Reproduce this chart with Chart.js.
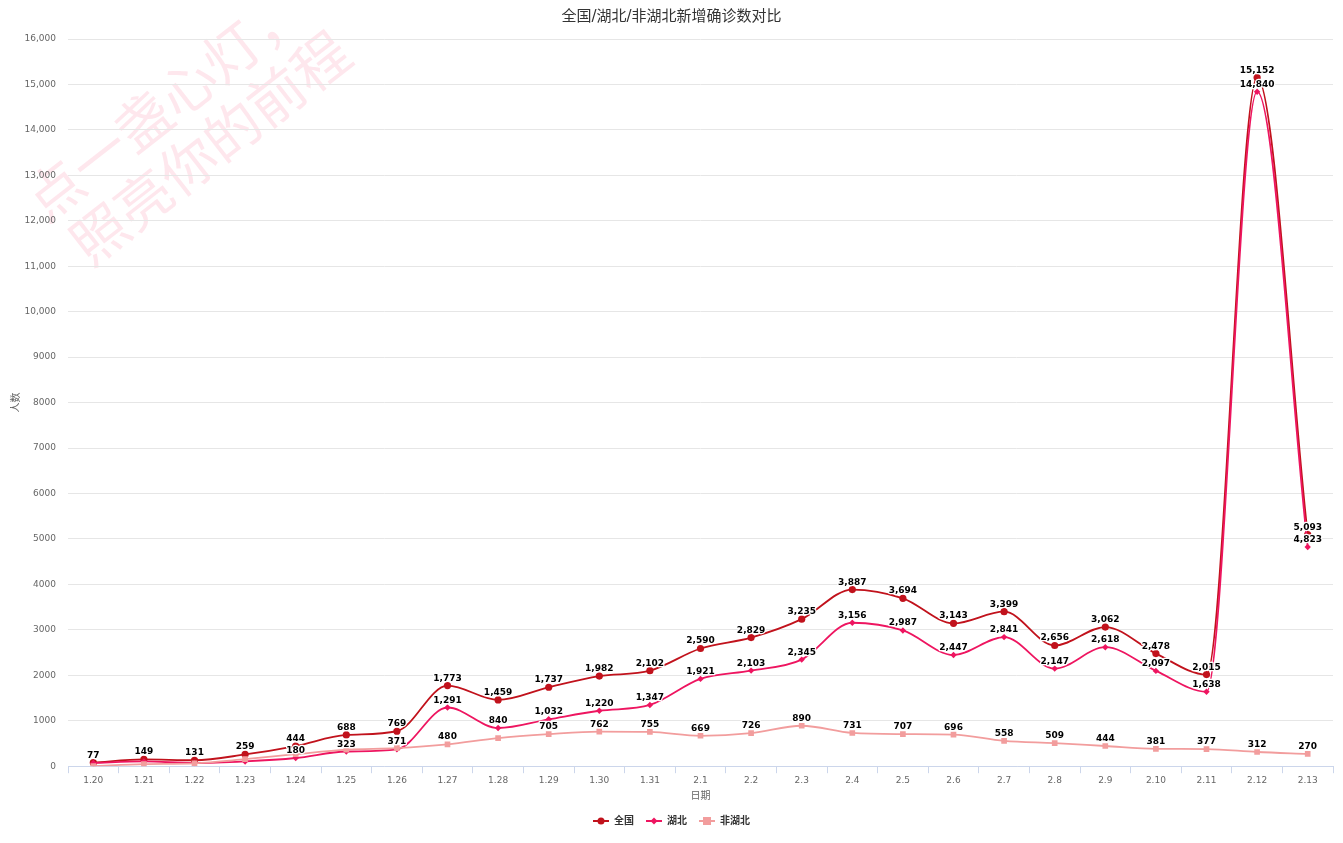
<!DOCTYPE html>
<html>
<head>
<meta charset="utf-8">
<title>全国/湖北/非湖北新增确诊数对比</title>
<script src="https://cdn.jsdelivr.net/npm/chart.js@4.4.1/dist/chart.umd.min.js"></script>
<style>
  html, body { margin: 0; padding: 0; background: #fff; }
  #wrap { width: 1343px; height: 843px; position: relative; }
</style>
</head>
<body>
<div id="wrap"><canvas id="chart"></canvas></div>
<script>
// dates on the x axis
const days = ['1.20', '1.21', '1.22', '1.23', '1.24', '1.25', '1.26', '1.27', '1.28', '1.29', '1.30', '1.31',
  '2.1', '2.2', '2.3', '2.4', '2.5', '2.6', '2.7', '2.8', '2.9', '2.10', '2.11', '2.12', '2.13'];

// new confirmed cases
const national = [77, 149, 131, 259, 444, 688, 769, 1773, 1459, 1737, 1982, 2102,
  2590, 2829, 3235, 3887, 3694, 3143, 3399, 2656, 3062, 2478, 2015, 15152, 5093];
const hubei = [72, 105, 69, 105, 180, 323, 371, 1291, 840, 1032, 1220, 1347,
  1921, 2103, 2345, 3156, 2987, 2447, 2841, 2147, 2618, 2097, 1638, 14840, 4823];
const outsideHubei = [5, 44, 62, 154, 264, 365, 398, 480, 619, 705, 762, 755,
  669, 726, 890, 731, 707, 696, 558, 509, 444, 381, 377, 312, 270];

const seriesNames = ['全国', '湖北', '非湖北'];
const colors = ['#c1121c', '#ee1560', '#f29d9d'];

const watermarkLines = ['点一盏心灯，', '照亮你的前程'];

const FONT = '"DejaVu Sans", "Noto Sans CJK SC", sans-serif';

function fmt(v) {
  // 4 digit numbers stay plain on the axis
  return v >= 10000 ? v.toLocaleString('en-US') : String(v);
}

// little line+marker pictures for the legend
function legendIcon(color, style) {
  const c = document.createElement('canvas');
  c.width = 16; c.height = 10;
  const g = c.getContext('2d');
  g.strokeStyle = color; g.lineWidth = 2;
  g.beginPath(); g.moveTo(0, 5); g.lineTo(16, 5); g.stroke();
  g.fillStyle = color;
  g.beginPath();
  if (style === 'circle') {
    g.arc(8, 5, 3.5, 0, Math.PI * 2);
  } else if (style === 'rectRot') {
    g.moveTo(8, 1.5); g.lineTo(11.5, 5); g.lineTo(8, 8.5); g.lineTo(4.5, 5); g.closePath();
  } else {
    g.rect(4, 1, 8, 8);
  }
  g.fill();
  return c;
}

const watermark = {
  id: 'watermark',
  beforeDraw(chart) {
    const ctx = chart.ctx;
    ctx.save();
    ctx.translate(33, 207);
    ctx.rotate(-38 * Math.PI / 180);
    ctx.font = '56px "Noto Sans CJK SC", sans-serif';
    ctx.fillStyle = 'rgba(250, 60, 110, 0.12)';
    ctx.textAlign = 'left';
    ctx.textBaseline = 'middle';
    ctx.fillText(watermarkLines[0], 0, 0);
    ctx.fillText(watermarkLines[1], 8, 62);
    ctx.restore();
  }
};

// value labels above points, hidden when they collide with one already drawn
const pointLabels = {
  id: 'pointLabels',
  afterDatasetsDraw(chart) {
    const ctx = chart.ctx;
    const boxes = [];
    ctx.save();
    ctx.font = 'bold 9px "DejaVu Sans", sans-serif';
    ctx.textAlign = 'center';
    ctx.textBaseline = 'alphabetic';
    ctx.lineJoin = 'round';
    chart.data.datasets.forEach((ds, di) => {
      const meta = chart.getDatasetMeta(di);
      meta.data.forEach((pt, i) => {
        const text = ds.data[i].toLocaleString('en-US');
        const w = ctx.measureText(text).width;
        const x = pt.x, yb = pt.y - 5;
        const box = { l: x - w / 2, r: x + w / 2, t: yb - 11, b: yb };
        const hit = boxes.some(o => box.l < o.r && box.r > o.l && box.t < o.b && box.b > o.t);
        if (hit) return;
        boxes.push(box);
        ctx.strokeStyle = '#fff';
        ctx.lineWidth = 2.5;
        ctx.strokeText(text, x, yb);
        ctx.fillStyle = '#000';
        ctx.fillText(text, x, yb);
      });
    });
    ctx.restore();
  }
};

const pointStyles = ['circle', 'rectRot', 'rect'];
const pointSizes = [3.6, 3.2, 4];
const values = [national, hubei, outsideHubei];

new Chart(document.getElementById('chart'), {
  type: 'line',
  data: {
    labels: days,
    datasets: values.map((v, i) => ({
      label: seriesNames[i],
      data: v,
      borderColor: colors[i],
      backgroundColor: colors[i],
      borderWidth: 1.8,
      pointStyle: pointStyles[i],
      pointRadius: pointSizes[i],
      pointBorderWidth: 0,
      cubicInterpolationMode: 'monotone',
      order: 3 - i
    }))
  },
  options: {
    responsive: true,
    maintainAspectRatio: false,
    animation: false,
    layout: { padding: { left: 10, right: 10, top: 0, bottom: 7 } },
    plugins: {
      tooltip: { enabled: false },
      title: {
        display: true,
        text: '全国/湖北/非湖北新增确诊数对比',
        color: '#333',
        font: { size: 15, weight: 'normal', family: FONT },
        padding: { top: 8, bottom: 13 }
      },
      legend: {
        position: 'bottom',
        labels: {
          usePointStyle: true,
          pointStyleWidth: 16,
          color: '#333',
          padding: 12,
          font: { size: 10, weight: 'bold', family: FONT },
          sort: (a, b) => a.datasetIndex - b.datasetIndex,
          generateLabels(chart) {
            const items = Chart.defaults.plugins.legend.labels.generateLabels(chart);
            items.forEach(it => {
              it.pointStyle = legendIcon(colors[it.datasetIndex], pointStyles[it.datasetIndex]);
            });
            return items;
          }
        }
      }
    },
    scales: {
      x: {
        offset: true,
        grid: { display: true, drawOnChartArea: false, color: '#ccd6eb', tickLength: 7, offset: true },
        border: { color: '#ccd6eb' },
        ticks: { color: '#666', font: { size: 9, family: FONT }, padding: 2, maxRotation: 0, autoSkip: false },
        title: { display: true, text: '日期', color: '#666', font: { size: 10, family: FONT }, padding: { top: 2, bottom: 2 } }
      },
      y: {
        min: 0,
        max: 16000,
        grid: { color: '#e6e6e6', drawTicks: false },
        border: { display: false },
        afterFit(scale) { scale.width = 58; },
        ticks: { stepSize: 1000, color: '#666', padding: 12, font: { size: 9, family: FONT }, callback: v => fmt(v) },
        title: { display: true, text: '人数', color: '#666', font: { size: 10, family: FONT }, padding: { top: 0, bottom: 2 } }
      }
    }
  },
  plugins: [watermark, pointLabels]
});
</script>
</body>
</html>
